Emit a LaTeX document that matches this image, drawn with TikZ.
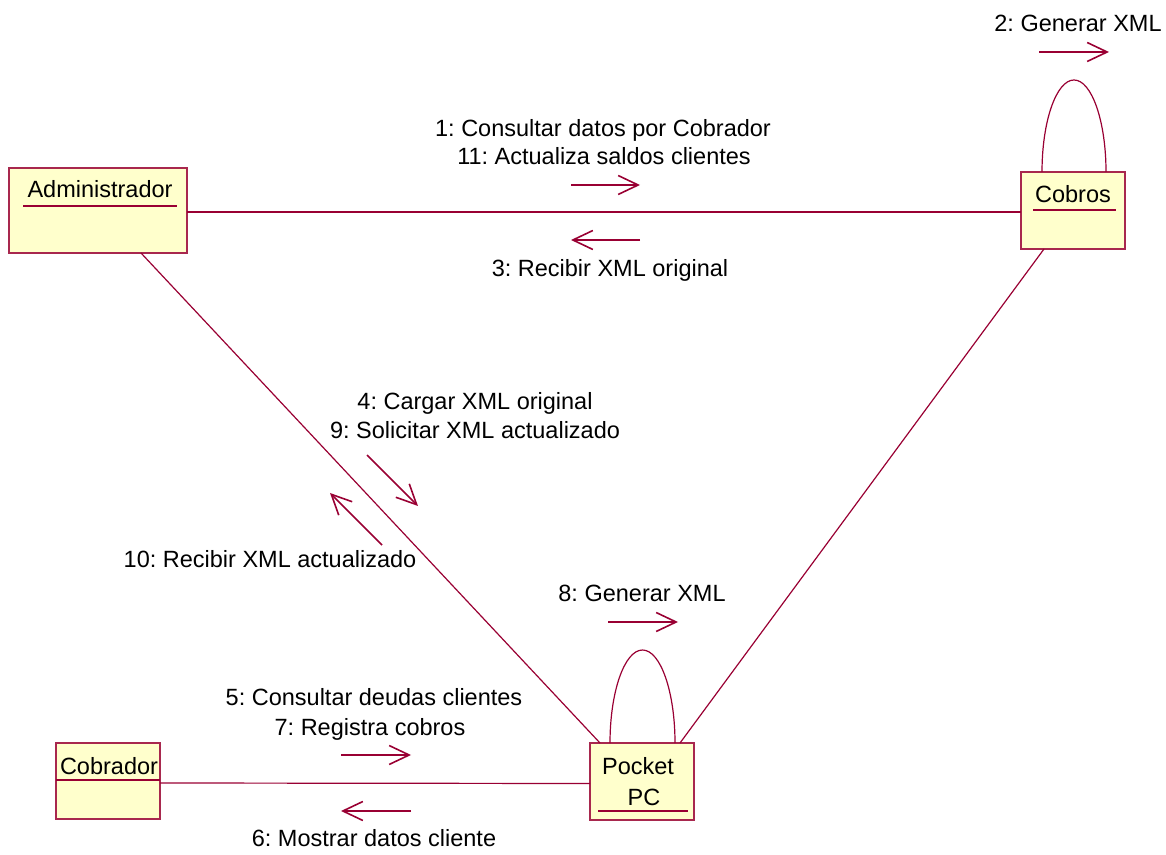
\documentclass[tikz,border=0pt]{standalone}
\usepackage{fontspec}
\setmainfont{Liberation Sans}
\usetikzlibrary{arrows.meta}
\definecolor{umlline}{RGB}{153,0,51}
\definecolor{umlborder}{RGB}{168,40,78}
\definecolor{umlfill}{RGB}{255,255,204}
\frenchspacing
\begin{document}
\begin{tikzpicture}[x=1pt,y=1pt,
  every node/.style={font=\fontsize{23.5}{29}\selectfont, inner sep=0pt, outer sep=0pt},
  objbox/.style={draw=umlborder, fill=umlfill, line width=1.5pt, rectangle},
  link/.style={draw=umlline, line width=1.2pt},
  uline/.style={draw=umlline, line width=1.3pt},
  msg/.style={draw=umlline, line width=1.6pt, -{Straight Barb[length=20pt,width=19pt]}},
  lbl/.style={text=black, anchor=base}]
\useasboundingbox (0,0) rectangle (1166,854);

% objects
\node[objbox, minimum width=178pt, minimum height=85pt] (adm) at (98,643.5) {};
\node[objbox, minimum width=104pt, minimum height=77pt] (cob) at (1073,643.5) {};
\node[objbox, minimum width=104pt, minimum height=77pt] (pda) at (642,72.5) {};
\node[objbox, minimum width=104pt, minimum height=76pt] (cbr) at (108,73) {};

% links between objects
\draw[link] ([yshift=-1.5pt]adm.east) -- ([yshift=-1.5pt]cob.west);
\draw[link] ([xshift=43pt]adm.south) -- ([xshift=10pt]pda.north west);
\draw[link] ([xshift=-29pt]cob.south) -- ([xshift=-14pt]pda.north east);
\draw[link] ([yshift=-2pt]cbr.east) -- ([yshift=-2pt]pda.west);

% self links
\draw[link] ([xshift=-31pt]cob.north) arc[start angle=180, end angle=0, x radius=32pt, y radius=92pt];
\draw[link] ([xshift=-32pt]pda.north) arc[start angle=180, end angle=0, x radius=32.5pt, y radius=93pt];

% object names
\node[lbl] (admname) at (100,656) {Administrador};
\draw[uline] (23,648) -- (177,648);
\node[lbl] (cobname) at (1073,651) {Cobros};
\draw[uline] (1033,644) -- (1116,644);
\node[lbl] (cbrname) at (109,79.7) {Cobrador};
\draw[uline] (56,74) -- (160,74);
\node[lbl] (pdaname1) at (638,79.7) {Pocket};
\node[lbl] (pdaname2) at (644,49) {PC};
\draw[uline] (598,43) -- (688,43);

% messages
\node[lbl] (m2) at (1078,822.3) {2: Generar XML};
\draw[msg] (1039,802) -- (1109,802);

\node[lbl] (m1) at (603,717.6) {1: Consultar datos por Cobrador};
\node[lbl] (m11) at (604,689.6) {11: Actualiza saldos clientes};
\draw[msg] (571,669) -- (640,669);

\draw[msg] (640,614) -- (571,614);
\node[lbl] (m3) at (610,577.6) {3: Recibir XML original};

\node[lbl] (m4) at (475,444.6) {4: Cargar XML original};
\node[lbl] (m9) at (475,415.6) {9: Solicitar XML actualizado};
\draw[msg] (367,399) -- (418,348);

\draw[msg] (382,309) -- (330,361);
\node[lbl] (m10) at (270,286.6) {10: Recibir XML actualizado};

\node[lbl] (m8) at (642,252.3) {8: Generar XML};
\draw[msg] (608,232) -- (678,232);

\node[lbl] (m5) at (374,148.6) {5: Consultar deudas clientes};
\node[lbl] (m7) at (370,118.6) {7: Registra cobros};
\draw[msg] (341,99) -- (411,99);

\draw[msg] (411,43) -- (341,43);
\node[lbl] (m6) at (374,7.6) {6: Mostrar datos cliente};
\end{tikzpicture}
\end{document}
